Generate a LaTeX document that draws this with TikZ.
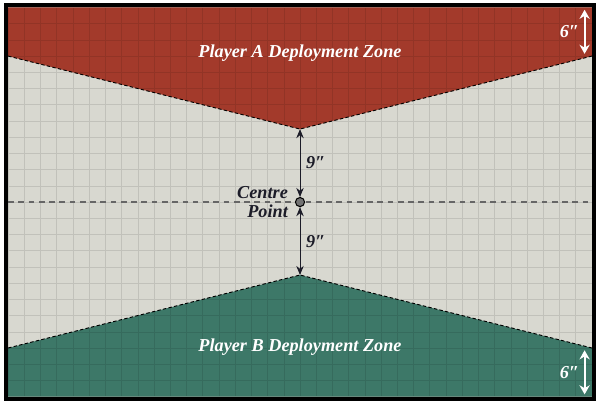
\documentclass[tikz,border=0pt]{standalone}
\usepackage{fontspec}
\setmainfont{Liberation Serif}
\usetikzlibrary{arrows.meta,positioning}
\definecolor{zonered}{HTML}{A33A2B}
\definecolor{zonegreen}{HTML}{3D7868}
\definecolor{tablegrey}{HTML}{D8D8D0}
\definecolor{inkdark}{HTML}{1C1C28}

\begin{document}
\begin{tikzpicture}[x=0.25cm, y=0.25cm,
    zone/.style={draw=black, dashed, line width=0.8pt, dash pattern=on 3pt off 2pt},
    zonelabel/.style={text=white, font=\fontsize{16}{18}\selectfont\bfseries\itshape},
    measurelabel/.style={text=inkdark, font=\fontsize{16}{17}\selectfont\bfseries\itshape},
    measure/.style={inkdark, line width=0.8pt, {Stealth[length=8pt,width=6.5pt]}-{Stealth[length=8pt,width=6.5pt]}},
    edgemeasure/.style={white, line width=1.6pt, shorten <=2pt, shorten >=2pt, {Stealth[length=8pt,width=9pt]}-{Stealth[length=8pt,width=9pt]}},
]
\useasboundingbox (-1,-0.92) rectangle (73,48.92);

% table and frame
\fill[black] (-0.55,-0.55) rectangle (72.55,48.55);
\fill[tablegrey] (0,0) rectangle (72,48);

% deployment zones
\fill[zonered] (0,48) -- (72,48) -- (72,42) -- (36,33) -- (0,42) -- cycle;
\fill[zonegreen] (0,0) -- (72,0) -- (72,6) -- (36,15) -- (0,6) -- cycle;

% grid
\draw[black, opacity=0.1, line width=0.5pt, step=2] (0,0) grid (72,48);

\draw[zone] (0,42) -- (36,33) -- (72,42);
\draw[zone] (0,6) -- (36,15) -- (72,6);

% centre line
\coordinate (midW) at (0,24);
\coordinate (midE) at (72,24);
\draw[black!60, line width=1.1pt, dash pattern=on 5pt off 4pt] (midW) -- (midE);

\coordinate (apexA) at (36,33);
\coordinate (apexB) at (36,15);
\node[circle, draw=black, fill=black!55, line width=0.9pt, minimum size=8pt, inner sep=0pt] (centre) at (36,24) {};
\node[measurelabel, align=right, left=4pt of centre, inner sep=2pt] (centrelabel) {Centre\\Point};

\draw[measure] (centre) -- (apexA) node[midway, right=5pt, measurelabel, inner sep=0pt] {9″};
\draw[measure] (centre) -- (apexB) node[midway, right=5pt, measurelabel, inner sep=0pt] {9″};

% zone labels
\node[zonelabel] (labelA) at (36,42.4) {Player A Deployment Zone};
\node[zonelabel] (labelB) at (36,6.1) {Player B Deployment Zone};

% 6 inch measures
\coordinate (topA) at (71.1,48);
\coordinate (edgeA) at (71.1,42);
\coordinate (botB) at (71.1,0);
\coordinate (edgeB) at (71.1,6);
\draw[edgemeasure] (topA) -- (edgeA) node[midway, left=4pt, zonelabel, inner sep=0pt] {6″};
\draw[edgemeasure] (botB) -- (edgeB) node[midway, left=4pt, zonelabel, inner sep=0pt] {6″};
\end{tikzpicture}
\end{document}
